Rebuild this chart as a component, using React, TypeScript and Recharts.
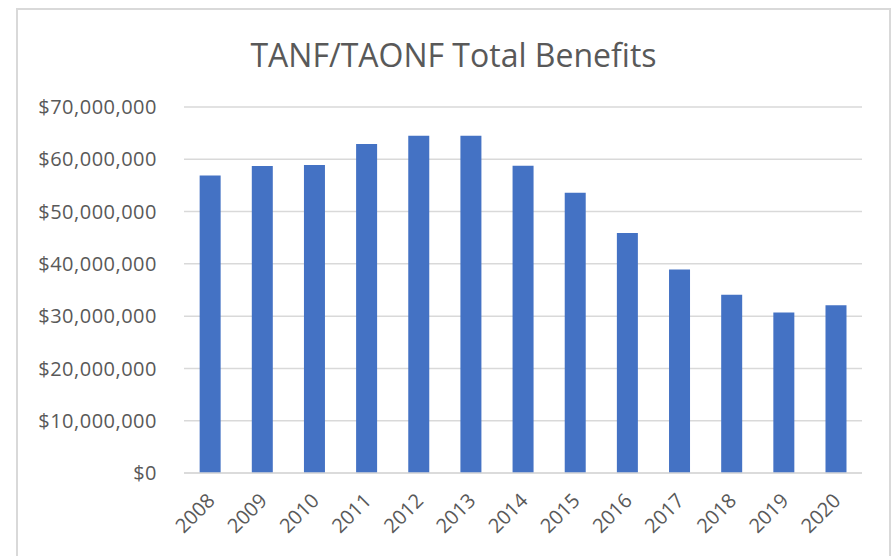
import { BarChart, Bar, XAxis, YAxis, CartesianGrid } from "recharts";

const years = ["2008", "2009", "2010", "2011", "2012", "2013", "2014", "2015", "2016", "2017", "2018", "2019", "2020"];
const benefits = [
  56900000, 58700000, 58900000, 62900000, 64500000, 64500000, 58750000,
  53600000, 45900000, 38900000, 34100000, 30700000, 32100000,
];
const yTicks = [0, 10000000, 20000000, 30000000, 40000000, 50000000, 60000000, 70000000];

const data = years.map((year, i) => ({ year, value: benefits[i] }));

const FONT = "'Open Sans', 'Noto Sans', sans-serif";
const TEXT = "#595959";
const GRID = "#d9d9d9";

const money = (v: number) => "$" + v.toLocaleString("en-US");

function YearTick({ x, y, payload }: any) {
  const tx = x + 6;
  const ty = y + 29;
  return (
    <text
      x={tx}
      y={ty}
      textAnchor="end"
      transform={`rotate(-45 ${tx} ${ty})`}
      fill={TEXT}
      fontSize={20}
      fontFamily={FONT}
    >
      {payload.value}
    </text>
  );
}

export default function App() {
  return (
    <div
      style={{
        position: "absolute",
        left: 0,
        top: 0,
        width: 894,
        height: 556,
        overflow: "hidden",
        background: "#fff",
        fontFamily: FONT,
      }}
    >
      <div
        style={{
          position: "absolute",
          left: 16,
          top: 8,
          width: 875,
          height: 600,
          boxSizing: "border-box",
          border: `2px solid ${GRID}`,
        }}
      />
      <div
        style={{
          position: "absolute",
          left: 16,
          width: 875,
          top: 33,
          textAlign: "center",
          fontSize: 32,
          color: TEXT,
          lineHeight: "44px",
        }}
      >
        TANF/TAONF Total Benefits
      </div>
      <div style={{ position: "absolute", left: 0, top: 0 }}>
        <BarChart
          width={894}
          height={556}
          data={data}
          margin={{ top: 107, right: 32, left: 0, bottom: 0 }}
          barCategoryGap="30%"
        >
          <CartesianGrid vertical={false} stroke={GRID} strokeWidth={1.5} />
          <XAxis
            dataKey="year"
            interval={0}
            height={83}
            axisLine={{ stroke: GRID, strokeWidth: 1.5 }}
            tickLine={false}
            tickSize={0}
            tickMargin={0}
            tick={<YearTick />}
          />
          <YAxis
            width={184}
            domain={[0, 70000000]}
            ticks={yTicks}
            tickFormatter={money}
            axisLine={false}
            tickLine={false}
            tickSize={0}
            tickMargin={27}
            tick={{ fill: TEXT, fontSize: 20, fontFamily: FONT, letterSpacing: 0.5 }}
          />
          <Bar dataKey="value" fill="#4472c4" isAnimationActive={false} />
        </BarChart>
      </div>
    </div>
  );
}
